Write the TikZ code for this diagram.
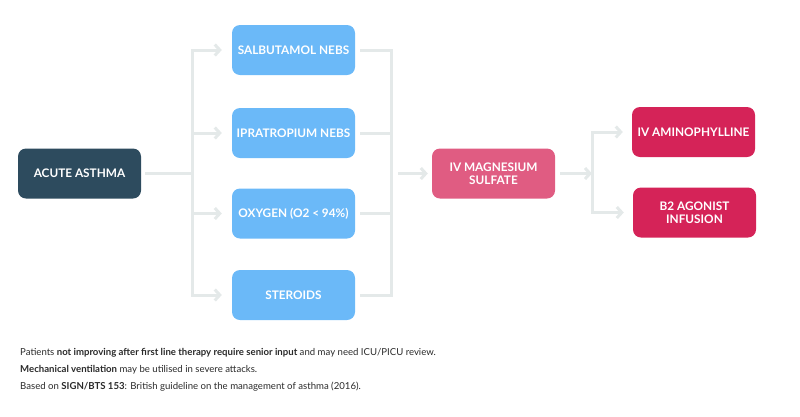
\documentclass[tikz,border=0pt]{standalone}
\usepackage{fontspec}
\setmainfont{Lato}
\usetikzlibrary{arrows.meta}
\definecolor{darkbox}{HTML}{2D4B5E}
\definecolor{bluebox}{HTML}{6BB9F8}
\definecolor{pinkbox}{HTML}{E05C82}
\definecolor{redbox}{HTML}{D52358}
\definecolor{conn}{HTML}{E4E9E9}
\definecolor{note}{HTML}{2A2A2A}
\tikzset{
  box/.style={rectangle, rounded corners=8pt, minimum width=123pt, minimum height=50pt,
    inner sep=0pt, text=white, font=\fontsize{11.8}{13.5}\selectfont\bfseries, align=center},
  link/.style={draw=conn, line width=3pt},
  arr/.style={link, -{Straight Barb[length=5pt,width=11pt,line width=3pt]}},
  notetext/.style={anchor=base west, inner sep=0pt, text=note, font=\fontsize{9.6}{11}\selectfont}
}
\begin{document}
\begin{tikzpicture}[x=1pt,y=-1pt]
\useasboundingbox (0,0) rectangle (800,416);
\node[box, fill=darkbox] (acute) at (79.5,173.5) {ACUTE ASTHMA};
\node[box, fill=bluebox] (salb) at (293.5,50) {SALBUTAMOL NEBS};
\node[box, fill=bluebox] (ipra) at (293.5,133) {IPRATROPIUM NEBS};
\node[box, fill=bluebox] (oxy) at (293.5,213.5) {OXYGEN (O2 < 94\%)};
\node[box, fill=bluebox] (ster) at (293.5,295) {STEROIDS};
\node[box, fill=pinkbox] (mag) at (493.5,173.5) {IV MAGNESIUM\\SULFATE};
\node[box, fill=redbox] (amino) at (693.5,132) {IV AMINOPHYLLINE};
\node[box, fill=redbox] (b2) at (694.5,212.5) {B2 AGONIST\\INFUSION};
\coordinate (j1) at (192,173.5);
\coordinate (j2) at (391,173.5);
\coordinate (j3) at (592,173.5);
% left fan-out
\draw[link, shorten <=4pt] (acute) -- (j1);
\foreach \t in {salb,ipra,oxy,ster}{
  \draw[arr, shorten >=10pt] (j1) |- (\t);
}
% right fan-in
\foreach \t in {salb,ipra,oxy,ster}{
  \draw[link, shorten <=5pt] (\t) -| (j2);
}
\draw[arr, shorten <=7pt, shorten >=4pt] (j2) -- (mag);
\draw[arr, shorten <=5pt] (mag) -- (j3);
\draw[arr, shorten >=9pt] (j3) |- (amino);
\draw[arr, shorten >=9pt] (j3) |- (b2);
% notes
\node[notetext] (n1) at (20,355) {Patients \textbf{not improving after first line therapy require senior input} and may need ICU/PICU review.};
\node[notetext] (n2) at (20,372) {\textbf{Mechanical ventilation} may be utilised in severe attacks.};
\node[notetext] (n3) at (20,389) {Based on \textbf{SIGN/BTS 153}: British guideline on the management of asthma (2016).};
\end{tikzpicture}
\end{document}
